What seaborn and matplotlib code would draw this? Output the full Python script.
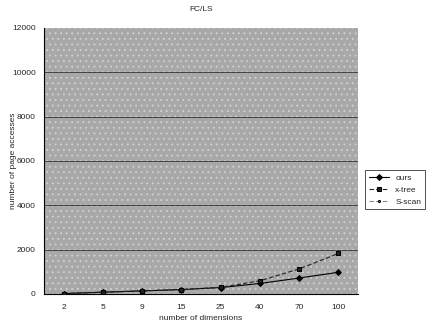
import matplotlib
matplotlib.use("Agg")
import matplotlib.pyplot as plt
import seaborn as sns
import pandas as pd
import numpy as np

dims = ["2", "5", "9", "15", "25", "40", "70", "100"]
ours = [20, 80, 140, 200, 290, 475, 720, 980]
xtree = [20, 80, 140, 200, 300, 595, 1130, 1830]
sscan = [np.nan] * 8  # not visible in the chart area

df = pd.DataFrame({
    "pos": list(range(len(dims))) * 3,
    "value": ours + xtree + sscan,
    "series": ["ours"] * 8 + ["x-tree"] * 8 + ["S-scan"] * 8,
})

sns.set_style("white")
plt.rcParams["font.family"] = ["Liberation Sans", "DejaVu Sans"]
plt.rcParams["hatch.linewidth"] = 0.7

fig = plt.figure(figsize=(4.42, 3.25), dpi=100)
ax = fig.add_axes([0.0995, 0.0954, 0.7105, 0.8186])
ax.set_facecolor("#a8a8a8")
ax.patch.set_hatch("...")
ax.patch.set_edgecolor("#cfcfcf")

for y in range(2000, 12000, 2000):
    ax.axhline(y, color="#303030", lw=0.6, zorder=1)

palette = {"ours": "black", "x-tree": "#222222", "S-scan": "#888888"}
sns.lineplot(data=df, x="pos", y="value", hue="series", style="series",
             palette=palette, markers={"ours": "D", "x-tree": "s", "S-scan": "."},
             dashes={"ours": "", "x-tree": (4, 2), "S-scan": (4, 2)},
             markersize=3, markeredgecolor="black", lw=0.8, ax=ax, zorder=3)

ax.set_xlim(-0.5, len(dims) - 0.5)
ax.set_ylim(0, 12000)
ax.set_xticks(range(len(dims)))
ax.set_xticklabels(dims)
ax.set_yticks(range(0, 12001, 2000))
ax.tick_params(axis="both", labelsize=6, length=2, color="black")
ax.tick_params(axis="x", pad=7, length=0)
ax.tick_params(axis="y", pad=4)
for s in ["top", "right"]:
    ax.spines[s].set_visible(False)
for s in ["left", "bottom"]:
    ax.spines[s].set_color("black")
    ax.spines[s].set_linewidth(0.8)

ax.set_xlabel("number of dimensions", fontsize=6, labelpad=3)
ax.set_ylabel("number of page accesses", fontsize=6)
ax.yaxis.set_label_coords(-0.085, 0.5)
ax.set_title("FC/LS", fontsize=6, pad=12)

leg = ax.legend(loc="upper left", bbox_to_anchor=(1.01, 0.48), fontsize=6,
                frameon=True, fancybox=False, edgecolor="black", handlelength=2.4,
                borderpad=0.4, labelspacing=0.5)
leg.get_frame().set_linewidth(0.6)

fig.savefig("out.png", dpi=100)
